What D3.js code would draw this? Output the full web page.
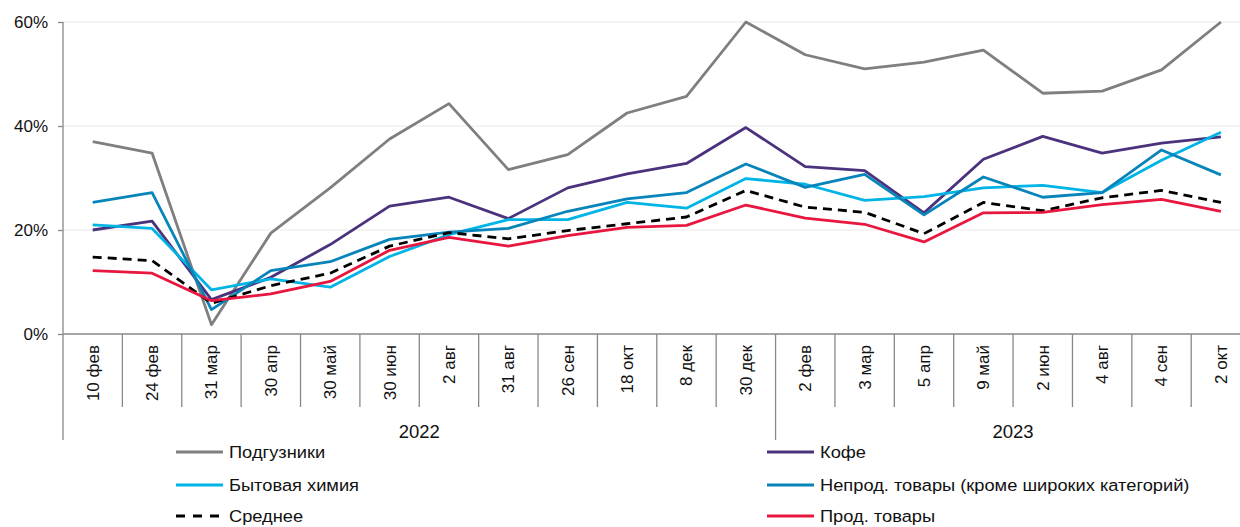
<!DOCTYPE html>
<html>
<head>
<meta charset="utf-8">
<script src="https://cdn.jsdelivr.net/npm/d3@7"></script>
<style>
  html, body { margin: 0; padding: 0; background: #fff; }
  svg { display: block; font-family: "Liberation Sans", Arial, sans-serif; }
</style>
</head>
<body>
<svg id="chart" width="1240" height="527"></svg>
<script>
// ---- data ----
const categories = ["10 фев","24 фев","31 мар","30 апр","30 май","30 июн","2 авг","31 авг","26 сен","18 окт","8 дек","30 дек",
                    "2 фев","3 мар","5 апр","9 май","2 июн","4 авг","4 сен","2 окт"];
const years = ["2022", "2023"];
const yearCounts = [12, 8];
const yTicks = [0, 20, 40, 60];

const podguzniki = [37.0,34.8,1.8,19.4,28.1,37.5,44.3,31.6,34.5,42.5,45.7,60.0,53.7,51.0,52.3,54.6,46.3,46.7,50.8,60.0];
const kofe       = [20.0,21.7,6.6,10.9,17.2,24.6,26.3,22.2,28.1,30.8,32.8,39.7,32.2,31.4,23.3,33.6,38.0,34.8,36.7,37.9];
const bytovaya   = [21.0,20.3,8.5,10.6,9.0,14.9,19.1,22.0,22.0,25.3,24.2,29.9,28.8,25.7,26.4,28.1,28.6,27.2,33.4,38.8];
const neprod     = [25.3,27.2,4.7,12.2,13.9,18.2,19.6,20.3,23.6,26.0,27.2,32.7,28.2,30.7,22.9,30.2,26.3,27.2,35.4,30.6];
const srednee    = [14.8,14.1,5.9,9.3,11.7,16.9,19.5,18.3,19.9,21.2,22.5,27.6,24.4,23.4,19.3,25.3,23.7,26.2,27.6,25.3];
const prod       = [12.2,11.7,6.4,7.7,10.1,16.1,18.6,16.9,18.9,20.5,20.9,24.8,22.3,21.1,17.7,23.3,23.4,24.9,25.9,23.6];

const seriesNames = ["Подгузники","Кофе","Бытовая химия","Непрод. товары (кроме широких категорий)","Среднее","Прод. товары"];
const seriesValues = [podguzniki, kofe, bytovaya, neprod, srednee, prod];
const seriesColors = ["#7f7f7f","#4b327d","#00b4e6","#0785ba","#000000","#e8173f"];
const seriesDash = [null, null, null, null, "9,6", null];

// ---- layout ----
const svg = d3.select("#chart");
const plotLeft = 63, plotRight = 1250.6, plotTop = 22, plotBottom = 334;

const x = d3.scaleBand().domain(categories).range([plotLeft, plotRight]).paddingInner(0).paddingOuter(0);
const y = d3.scaleLinear().domain([0, 60]).range([plotBottom, plotTop]);

// gridlines
svg.append("g").selectAll("line").data(yTicks.filter(d => d > 0)).join("line")
  .attr("x1", plotLeft).attr("x2", 1240)
  .attr("y1", d => y(d)).attr("y2", d => y(d))
  .attr("stroke", "#e9e9e9").attr("stroke-width", 1);

// y axis
const yAxis = d3.axisLeft(y).tickValues(yTicks).tickSize(5).tickPadding(10).tickFormat(d => d + "%");
const gy = svg.append("g").attr("transform", `translate(${plotLeft},0)`).call(yAxis);
gy.select(".domain").remove();
gy.selectAll(".tick line").attr("stroke", "#888").attr("stroke-width", 1.3);
gy.selectAll(".tick text").attr("font-size", 17).attr("fill", "#111")
  .attr("font-family", "Liberation Sans, Arial, sans-serif");

// left axis line (extends down through category area)
svg.append("line").attr("x1", plotLeft).attr("x2", plotLeft).attr("y1", plotTop).attr("y2", 440)
  .attr("stroke", "#888").attr("stroke-width", 1.3);

// bottom axis line
svg.append("line").attr("x1", plotLeft).attr("x2", 1240).attr("y1", plotBottom).attr("y2", plotBottom)
  .attr("stroke", "#888").attr("stroke-width", 1.3);

// category separators
const bw = x.bandwidth();
let cum = 0;
const yearBounds = [0];
yearCounts.forEach(c => { cum += c; yearBounds.push(cum); });
const sepIdx = d3.range(1, categories.length + 1);
svg.append("g").selectAll("line").data(sepIdx).join("line")
  .attr("x1", i => plotLeft + i * bw).attr("x2", i => plotLeft + i * bw)
  .attr("y1", plotBottom)
  .attr("y2", i => yearBounds.includes(i) ? 440 : 407)
  .attr("stroke", "#888").attr("stroke-width", 1.3);

// category labels
svg.append("g").selectAll("text").data(categories).join("text")
  .attr("transform", d => `translate(${x(d) + bw / 2},345) rotate(-90)`)
  .attr("text-anchor", "end").attr("dy", "0.35em")
  .attr("font-size", 17).attr("fill", "#111")
  .text(d => d);

// year labels
svg.append("g").selectAll("text").data(years).join("text")
  .attr("x", (d, i) => plotLeft + (yearBounds[i] + yearBounds[i + 1]) / 2 * bw)
  .attr("y", 438)
  .attr("text-anchor", "middle")
  .attr("font-size", 18.5).attr("fill", "#111")
  .text(d => d);

// lines
const line = d3.line().x((d, i) => x(categories[i]) + bw / 2).y(d => y(d));
svg.append("g").selectAll("path").data(seriesValues).join("path")
  .attr("d", d => line(d))
  .attr("fill", "none")
  .attr("stroke", (d, i) => seriesColors[i])
  .attr("stroke-width", 2.8)
  .attr("stroke-linejoin", "round")
  .attr("stroke-dasharray", (d, i) => seriesDash[i]);

// legend
const legX = [176, 767];
const legY = [452, 485, 516];
const lg = svg.append("g");
seriesNames.forEach((name, i) => {
  const col = i % 2, row = Math.floor(i / 2);
  const lx = legX[col], ly = legY[row];
  lg.append("line").attr("x1", lx).attr("x2", lx + 47).attr("y1", ly).attr("y2", ly)
    .attr("stroke", seriesColors[i]).attr("stroke-width", 2.8)
    .attr("stroke-dasharray", seriesDash[i] ? "9,8" : null);
  lg.append("text").attr("transform", `translate(${lx + 53},${ly}) scale(1.05,1)`)
    .attr("dy", "0.35em")
    .attr("font-size", 17.4).attr("fill", "#111").text(name);
});
</script>
</body>
</html>
